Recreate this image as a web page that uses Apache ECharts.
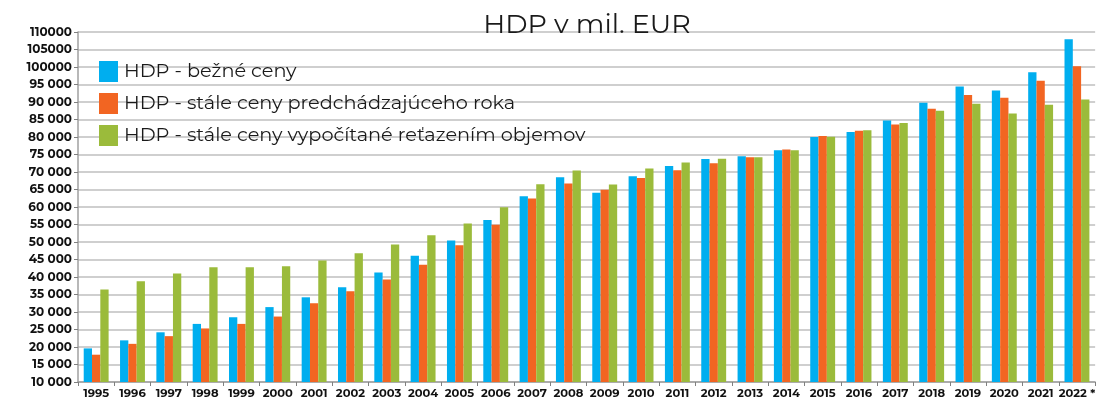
<!DOCTYPE html>
<html>
<head>
<meta charset="utf-8">
<script src="https://cdn.jsdelivr.net/npm/echarts@6/dist/echarts.min.js"></script>
<style>html,body{margin:0;padding:0;background:#fff}#c{width:1098px;height:400px}</style>
</head>
<body>
<div id="c"></div>
<script>
const years = ['1995','1996','1997','1998','1999','2000','2001','2002','2003','2004','2005','2006','2007','2008','2009','2010','2011','2012','2013','2014','2015','2016','2017','2018','2019','2020','2021','2022 *'];
const bezneCeny = [19600,21900,24200,26600,28500,31400,34200,37100,41300,46100,50400,56300,63100,68500,64100,68800,71700,73700,74500,76200,80000,81400,84700,89800,94400,93300,98500,107900];
const staleCenyPredch = [17800,20900,23100,25300,26600,28700,32500,35900,39300,43500,49100,54900,62400,66700,64900,68300,70500,72500,74200,76400,80300,81800,83600,88100,92000,91200,96100,100200];
const staleCenyRetaz = [36400,38800,41000,42800,42800,43100,44700,46800,49300,51900,55300,59900,66500,70400,66400,71000,72700,73800,74200,76200,80100,81900,84000,87500,89500,86700,89200,90700];
const yTickLabels = ['10 000','15 000','20 000','25 000','30 000','35 000','40 000','45 000','50 000','55 000','60 000','65 000','70 000','75 000','80 000','85 000','90 000','95 000','100000','105000','110000'];
const seriesNames = ['HDP - bežné ceny','HDP - stále ceny predchádzajúceho roka','HDP - stále ceny vypočítané reťazením objemov'];

const chart = echarts.init(document.getElementById('c'));
const font = 'Montserrat, "DejaVu Sans", sans-serif';
chart.setOption({
  animation: false,
  color: ['#00AEEF','#F26522','#9BBB3B'],
  title: {text: 'HDP v mil. EUR', left: 582, textAlign: 'center', top: 7,
    textStyle: {fontFamily: font, fontSize: 27, fontWeight: 'normal', color: '#1a1a1a'}},
  legend: {orient: 'vertical', left: 94, top: 56, itemWidth: 19, itemHeight: 21, itemGap: 11,
    textStyle: {fontFamily: font, fontSize: 19.3, color: '#1a1a1a', padding: [0,0,0,1]},
    icon: 'rect'},
  grid: {left: 78, right: -5, top: 32, bottom: 17, containLabel: false},
  xAxis: {type: 'category', data: years,
    axisLine: {lineStyle: {color: '#a0a0a0', width: 1.5}},
    axisTick: {show: true, length: 4, lineStyle: {color: '#808080'}},
    axisLabel: {fontFamily: font, fontWeight: 'bold', fontSize: 11.5, color: '#111', margin: 6, interval: 0}},
  yAxis: {type: 'value', min: 10000, max: 110000, interval: 5000,
    axisLine: {show: true, lineStyle: {color: '#a0a0a0', width: 1.5}},
    axisTick: {show: true, length: 4, lineStyle: {color: '#808080'}},
    splitLine: {lineStyle: {color: '#cfcfcf', width: 2}},
    axisLabel: {fontFamily: font, fontWeight: 'bold', fontSize: 12, color: '#111', margin: 6,
      formatter: v => yTickLabels[Math.round((v - 10000) / 5000)]}},
  series: [
    {name: seriesNames[0], type: 'bar', data: bezneCeny, barWidth: 8.3, barGap: '0%'},
    {name: seriesNames[1], type: 'bar', data: staleCenyPredch, barWidth: 8.3, barGap: '0%'},
    {name: seriesNames[2], type: 'bar', data: staleCenyRetaz, barWidth: 8.3, barGap: '0%'}
  ]
});
</script>
</body>
</html>
